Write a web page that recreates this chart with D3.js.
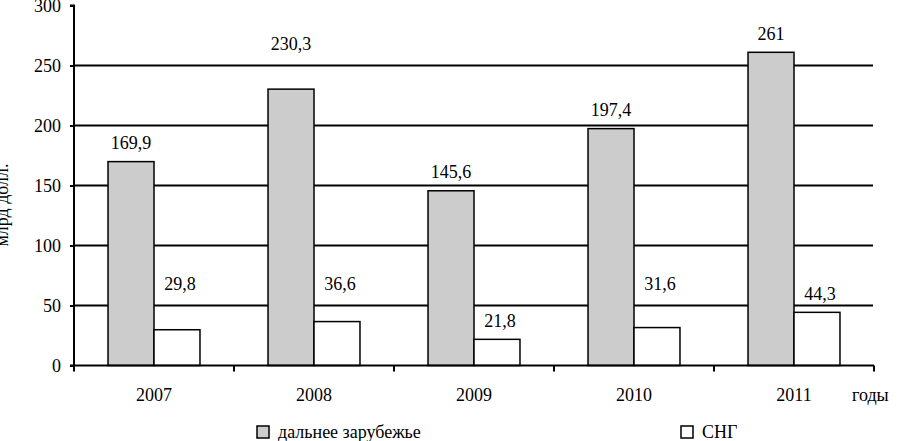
<!DOCTYPE html>
<html>
<head>
<meta charset="utf-8">
<script src="https://cdn.jsdelivr.net/npm/d3@7"></script>
<style>
  body { margin: 0; background: #fff; }
  svg { display: block; }
  svg text { font-family: "Liberation Serif", "DejaVu Serif", serif; }
</style>
</head>
<body>
<script>
// data
const years = ["2007", "2008", "2009", "2010", "2011"];
const farAbroad = [169.9, 230.3, 145.6, 197.4, 261];
const cis = [29.8, 36.6, 21.8, 31.6, 44.3];
const seriesNames = ["дальнее зарубежье", "СНГ"];
const seriesFill = ["#cccccc", "#ffffff"];
const yTicks = [0, 50, 100, 150, 200, 250, 300];

const width = 901, height = 441;
const plotLeft = 74, plotRight = 874, plotTop = 5.5, plotBottom = 365.5;
const fontSize = 18;

const svg = d3.select("body").append("svg")
  .attr("width", width)
  .attr("height", height)
  .attr("font-family", "Liberation Serif, DejaVu Serif, serif");

const x = d3.scaleBand().domain(years).range([plotLeft, plotRight]);
const x1 = d3.scaleBand().domain(seriesNames).range([0, x.bandwidth()]).paddingOuter(0.74);
const y = d3.scaleLinear().domain([0, 300]).range([plotBottom, plotTop]);

// gridlines
svg.append("g")
  .selectAll("line")
  .data(yTicks.filter(d => d > 0 && d < 300))
  .join("line")
    .attr("x1", plotLeft).attr("x2", plotRight - 1)
    .attr("y1", d => y(d)).attr("y2", d => y(d))
    .attr("stroke", "#000").attr("stroke-width", 2);

// bars
const rows = years.map((yr, i) => ({ year: yr, vals: [farAbroad[i], cis[i]] }));
const groups = svg.append("g").selectAll("g")
  .data(rows)
  .join("g")
    .attr("transform", d => `translate(${x(d.year)},0)`);

groups.selectAll("rect")
  .data(d => d.vals.map((v, k) => ({ v, k })))
  .join("rect")
    .attr("x", d => x1(seriesNames[d.k]))
    .attr("width", x1.bandwidth())
    .attr("y", d => y(d.v))
    .attr("height", d => y(0) - y(d.v))
    .attr("fill", d => seriesFill[d.k])
    .attr("stroke", "#000")
    .attr("stroke-width", 1.5);

// value labels, lifted above a gridline when they would sit on it
const gridYs = yTicks.filter(d => d > 0 && d < 300).map(y);
function labelY(v) {
  const c = y(v) - 19;
  const hit = gridYs.find(g => Math.abs(g - c) < 10);
  return hit !== undefined ? hit - 22 : c;
}
const fmt = v => String(v).replace(".", ",");

groups.selectAll("text.val")
  .data(d => d.vals.map((v, k) => ({ v, k })))
  .join("text")
    .attr("class", "val")
    .attr("x", d => x1(seriesNames[d.k]) + x1.bandwidth() / 2 + (d.k === 1 ? 3 : 0))
    .attr("y", d => labelY(d.v))
    .attr("dy", "0.35em")
    .attr("text-anchor", "middle")
    .attr("font-size", fontSize)
    .text(d => fmt(d.v));

// y axis
const yAxis = svg.append("g")
  .attr("transform", `translate(${plotLeft},0)`)
  .call(d3.axisLeft(y).tickValues(yTicks).tickSize(4).tickPadding(9).tickFormat(d3.format("d")));
yAxis.attr("font-family", null).attr("font-size", fontSize);
yAxis.select(".domain").attr("stroke-width", 2).attr("d", `M-4,${plotTop}H0V${plotBottom}`);
yAxis.selectAll(".tick line").attr("stroke-width", 2);
yAxis.selectAll(".tick text").attr("fill", "#000");

// x axis
svg.append("line")
  .attr("x1", plotLeft - 4).attr("x2", plotRight)
  .attr("y1", plotBottom).attr("y2", plotBottom)
  .attr("stroke", "#000").attr("stroke-width", 2);
svg.append("g")
  .selectAll("line")
  .data(years.concat(["end"]))
  .join("line")
    .attr("x1", (d, i) => plotLeft + i * x.step())
    .attr("x2", (d, i) => plotLeft + i * x.step())
    .attr("y1", plotBottom).attr("y2", plotBottom + 6)
    .attr("stroke", "#000").attr("stroke-width", 2);
svg.append("g")
  .selectAll("text")
  .data(years)
  .join("text")
    .attr("x", d => x(d) + x.bandwidth() / 2)
    .attr("y", 401)
    .attr("text-anchor", "middle")
    .attr("font-size", fontSize)
    .text(d => d);

svg.append("text")
  .attr("x", 852).attr("y", 401)
  .attr("font-size", fontSize)
  .text("годы");

// y title
svg.append("text")
  .attr("transform", "translate(8,205) rotate(-90)")
  .attr("text-anchor", "middle")
  .attr("font-size", fontSize)
  .text("млрд долл.");

// legend
const legendX = [257, 681];
const lg = svg.append("g").selectAll("g")
  .data(seriesNames)
  .join("g")
    .attr("transform", (d, i) => `translate(${legendX[i]},426)`);
lg.append("rect")
  .attr("width", 12).attr("height", 12)
  .attr("fill", (d, i) => seriesFill[i])
  .attr("stroke", "#000").attr("stroke-width", 1.5);
lg.append("text")
  .attr("x", 21).attr("y", 12)
  .attr("font-size", fontSize)
  .text(d => d);
</script>
</body>
</html>
